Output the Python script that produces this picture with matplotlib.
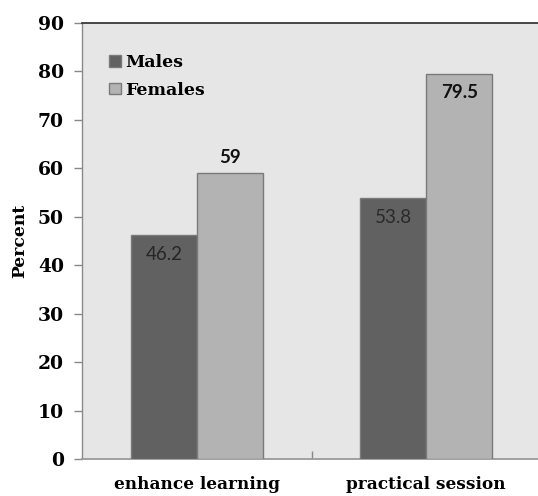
import matplotlib
matplotlib.use("Agg")
import matplotlib.pyplot as plt
import numpy as np

categories = ["enhance learning", "practical session"]
males = [46.2, 53.8]
females = [59, 79.5]
yticks = [0, 10, 20, 30, 40, 50, 60, 70, 80, 90]

W, H, DPI = 538, 496, 100
fig = plt.figure(figsize=(W / DPI, H / DPI), dpi=DPI)
fig.patch.set_facecolor("white")

ax = fig.add_axes([82 / W, 1 - 459 / H, 456 / W, 436 / H])
ax.set_facecolor("#e6e6e6")

x = np.arange(len(categories))
bw = 0.287
edge = "#7a7a7a"
ax.bar(x - bw / 2, males, bw, color="#616161", edgecolor=edge, linewidth=1.0,
       label="Males", zorder=3)
ax.bar(x + bw / 2, females, bw, color="#b3b3b3", edgecolor=edge, linewidth=1.0,
       label="Females", zorder=3)

ax.set_xlim(-0.5, -0.5 + 456 / 229.5)
ax.set_ylim(0, 90)
ax.set_yticks(yticks)

serif = "DejaVu Serif"
ax.set_yticklabels([str(v) for v in yticks], fontfamily=serif, fontweight="bold",
                   fontsize=13.5)
ax.tick_params(axis="y", direction="out", length=6, width=1, color="#888888", pad=7)

ax.set_xticks(x)
ax.set_xticklabels(categories, fontfamily=serif, fontweight="bold", fontsize=12.2)
ax.tick_params(axis="x", which="major", length=0, pad=12.5)
ax.set_xticks([0.5], minor=True)
ax.tick_params(axis="x", which="minor", direction="in", length=6, width=1,
               color="#888888")

ax.spines["right"].set_visible(False)
ax.spines["top"].set_color("#3a3a3a")
ax.spines["top"].set_linewidth(1.3)
ax.spines["left"].set_color("#8a8a8a")
ax.spines["bottom"].set_color("#9a9a9a")
ax.spines["left"].set_linewidth(1.0)
ax.spines["bottom"].set_linewidth(1.3)

ax.set_ylabel("Percent", fontfamily=serif, fontweight="bold", fontsize=12.3, labelpad=7)

# value labels
lab = "Lato"
ax.text(x[0] - bw / 2, males[0] - 3.9, f"{males[0]}", ha="center", va="center",
        fontfamily=lab, fontsize=13.5, color="#262626", zorder=4)
ax.text(x[1] - bw / 2, males[1] - 3.9, f"{males[1]}", ha="center", va="center",
        fontfamily=lab, fontsize=13.5, color="#2a2a2a", zorder=4)
ax.text(x[0] + bw / 2, females[0] + 3.3, f"{females[0]}", ha="center", va="center",
        fontfamily=lab, fontweight="bold", fontsize=13.5, color="#111111", zorder=4)
ax.text(x[1] + bw / 2, females[1] - 3.9, f"{females[1]}", ha="center", va="center",
        fontfamily=lab, fontweight="bold", fontsize=13.5, color="#111111", zorder=4)

ax.legend(loc="upper left", bbox_to_anchor=(0.045, 0.945), frameon=False,
          prop={"family": serif, "weight": "bold", "size": 12.5},
          handlelength=0.65, handleheight=0.65, handletextpad=0.25,
          labelspacing=0.62, borderaxespad=0)

fig.savefig("out.png", dpi=DPI)
